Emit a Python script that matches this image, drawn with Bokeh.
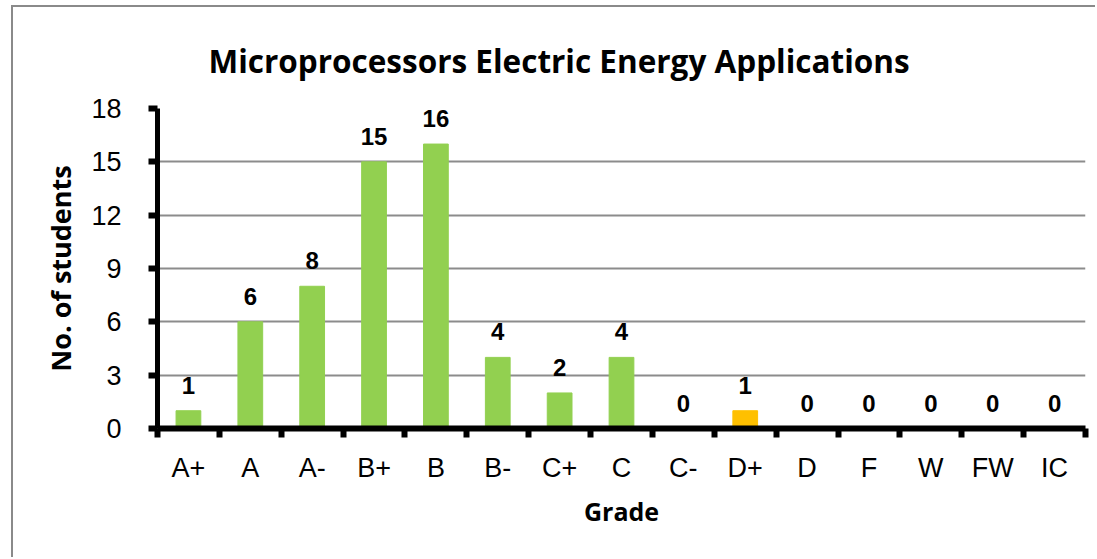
from bokeh.plotting import figure
from bokeh.models import (Range1d, FixedTicker, ColumnDataSource, LabelSet, Title)
from bokeh.core.properties import value
from bokeh.embed import file_html
from bokeh.resources import INLINE

# ---- data ----
grades = ["A+", "A", "A-", "B+", "B", "B-", "C+", "C", "C-", "D+", "D", "F", "W", "FW", "IC"]
students = [1, 6, 8, 15, 16, 4, 2, 4, 0, 1, 0, 0, 0, 0, 0]
highlight = ["D+"]
y_ticks = [0, 3, 6, 9, 12, 15, 18]
title_text = "Microprocessors Electric Energy Applications"
x_label = "Grade"
y_label = "No. of students"

GREEN = "#92D050"
ORANGE = "#FFC000"

xs = list(range(len(grades)))
colors = [ORANGE if g in highlight else GREEN for g in grades]
src = ColumnDataSource(dict(x=xs, top=students, color=colors,
                            label=[str(v) for v in students]))

# canvas starts at (13, 7) on the page: 11/5 px margin + 2 px chart-area border
p = figure(width=1084, height=552, output_backend="svg", toolbar_location=None,
           title_location=None,
           x_range=Range1d(-0.5, len(grades) - 0.5), y_range=Range1d(0, 18),
           min_border_left=144, min_border_right=12, min_border_top=101,
           min_border_bottom=131)
p.styles = {"margin-left": "11px", "margin-top": "5px",
            "border-left": "2px solid #8a8a8a", "border-top": "2px solid #8a8a8a"}

xa = p.below[0]
ya = p.left[0]

p.add_layout(Title(text=title_text, text_font="Open Sans", text_font_style="bold",
                   text_font_size="31.5px", align="left", offset=51, standoff=54,
                   text_color="black"), "above")

p.outline_line_color = None
p.background_fill_color = "white"
p.border_fill_color = "white"

p.vbar(x="x", top="top", width=0.4, bottom=0, color="color", source=src)

labels = LabelSet(x="x", y="top", text="label", source=src, text_align="center",
                  text_baseline="alphabetic", y_offset=17,
                  text_font=value("Liberation Sans"), text_font_style="bold",
                  text_font_size="24px", text_color="black")
p.add_layout(labels)

# grid
p.xgrid.grid_line_color = None
p.ygrid.ticker = FixedTicker(ticks=y_ticks[1:])
p.ygrid.grid_line_color = "#8c8c8c"
p.ygrid.grid_line_width = 2

# y axis
ya.ticker = FixedTicker(ticks=y_ticks)
ya.axis_line_color = "black"
ya.axis_line_width = 5
ya.major_tick_line_color = "black"
ya.major_tick_line_width = 6
ya.major_tick_out = 9
ya.major_tick_in = 0
ya.minor_tick_line_color = None
ya.major_label_standoff = 27
ya.major_label_text_font = "Liberation Sans"
ya.major_label_text_font_size = "27px"
ya.major_label_text_color = "black"
ya.axis_label = y_label
ya.axis_label_text_font = "Open Sans"
ya.axis_label_text_font_style = "bold"
ya.axis_label_text_font_size = "27px"
ya.axis_label_text_color = "black"
ya.axis_label_standoff = 9

# x axis
xa.ticker = FixedTicker(ticks=xs, minor_ticks=[i - 0.5 for i in range(len(grades) + 1)])
xa.major_label_overrides = {i: g for i, g in enumerate(grades)}
xa.axis_line_color = "black"
xa.axis_line_width = 6
xa.major_tick_line_color = None
xa.major_tick_out = 0
xa.major_tick_in = 0
xa.minor_tick_line_color = "black"
xa.minor_tick_line_width = 6
xa.minor_tick_out = 9
xa.minor_tick_in = 0
xa.major_label_standoff = 15
xa.major_label_text_font = "Liberation Sans"
xa.major_label_text_font_size = "27px"
xa.major_label_text_color = "black"
xa.axis_label = x_label
xa.axis_label_text_font = "Open Sans"
xa.axis_label_text_font_style = "bold"
xa.axis_label_text_font_size = "25px"
xa.axis_label_text_color = "black"
xa.axis_label_standoff = 8

open("out.html", "w").write(file_html(p, INLINE))
